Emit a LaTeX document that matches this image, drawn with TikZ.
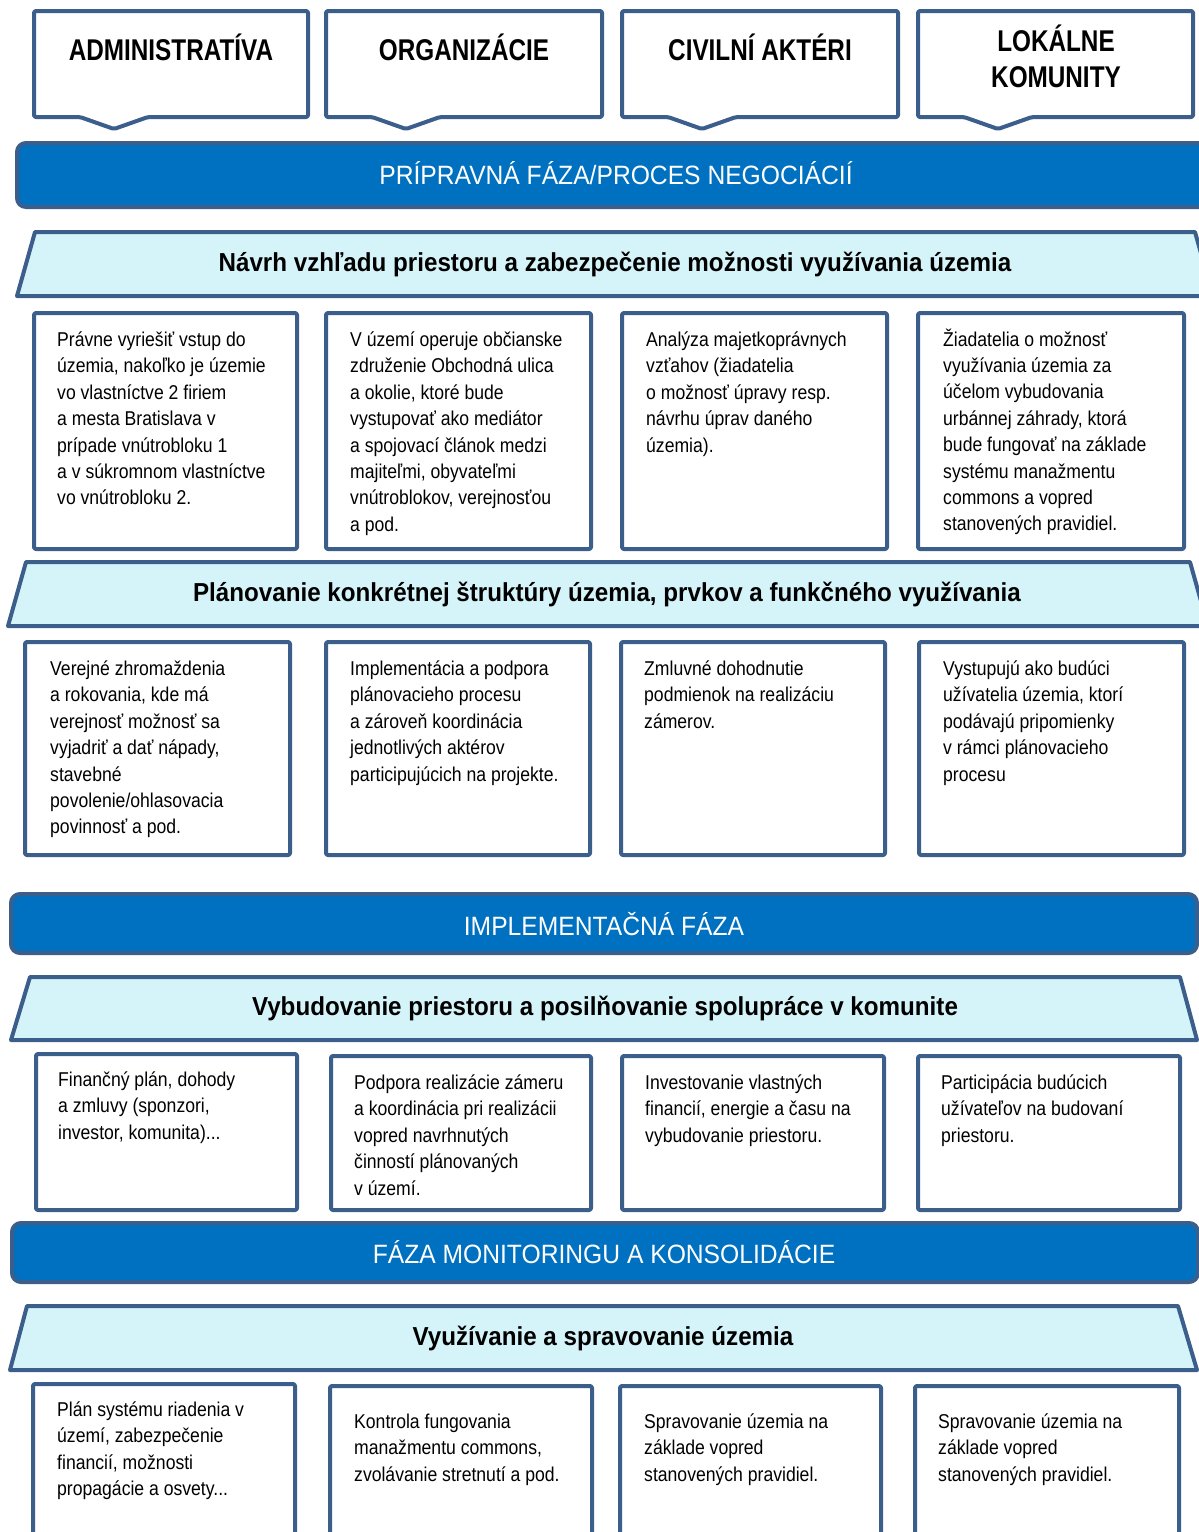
\documentclass[tikz,border=0pt]{standalone}
\usepackage{fontspec}
\usepackage{xcolor}
\usepackage{tikz}
\setmainfont{Liberation Sans}
\newfontfamily\headfont{Liberation Sans}[FakeStretch=0.81]
\newfontfamily\phasefont{Liberation Sans}[FakeStretch=0.93]
\newfontfamily\cellfont{Liberation Sans}[FakeStretch=0.88]
\definecolor{edgeblue}{HTML}{3C5E8B}
\definecolor{barblue}{HTML}{0070C0}
\definecolor{paleblue}{HTML}{D5F4FA}

\begin{document}
\begin{tikzpicture}[x=1pt, y=-1pt,
    edge/.style={draw=edgeblue, line width=4pt, line join=round},
    actor/.style={edge, fill=white, rounded corners=2pt},
    phasebar/.style={edge, fill=barblue, rounded corners=9pt},
    stagebar/.style={edge, fill=paleblue},
    cell/.style={edge, fill=white, rounded corners=2pt},
    actortext/.style={anchor=north, align=center, inner sep=0pt,
        font=\headfont\bfseries\fontsize{30}{36}\selectfont, execute at begin node=\strut},
    phasetext/.style={anchor=base, inner sep=0pt, text=white,
        font=\phasefont\fontsize{26.5}{30}\selectfont},
    stagetext/.style={anchor=base, inner sep=0pt,
        font=\phasefont\bfseries\fontsize{26}{30}\selectfont},
    celltext/.style={anchor=north west, align=left, inner sep=0pt,
        font=\cellfont\fontsize{20}{26.4}\selectfont, execute at begin node=\strut}]
    \useasboundingbox (0,0) rectangle (1199,1532);
    \clip (0,0) rectangle (1199,1532);

    % actors
    \foreach \l/\r in {34/308, 326/602, 622/898, 918/1193}
        \draw[actor] (\l,11) -- (\r,11) -- (\r,117) -- (\l+114,117) -- (\l+80,129) -- (\l+46,117) -- (\l,117) -- cycle;
    \node[actortext] (adm) at (171,33.8) {ADMINISTRATÍVA};
    \node[actortext] (org) at (464,33.8) {ORGANIZÁCIE};
    \node[actortext] (civ) at (760,33.8) {CIVILNÍ AKTÉRI};
    \node[actortext] (lok) at (1056,24.8) {LOKÁLNE\\KOMUNITY};

    % phase 1
    \draw[phasebar] (17,143) rectangle (1230,207);
    \node[phasetext] (prep) at (616,184) {PRÍPRAVNÁ FÁZA/PROCES NEGOCIÁCIÍ};
    \draw[stagebar] (35,232) -- (1195,232) -- (1213,296) -- (17,296) -- cycle;
    \node[stagetext] (navrh) at (615,271) {Návrh vzhľadu priestoru a zabezpečenie možnosti využívania územia};
    \draw[cell] (34,313) rectangle (297,549);
    \draw[cell] (326,313) rectangle (591,549);
    \draw[cell] (622,313) rectangle (887,549);
    \draw[cell] (918,313) rectangle (1184,549);
    \node[celltext] (n1) at (57,331.5) {Právne vyriešiť vstup do\\územia, nakoľko je územie\\vo vlastníctve 2 firiem\\a mesta Bratislava v\\prípade vnútrobloku 1\\a v súkromnom vlastníctve\\vo vnútrobloku 2.};
    \node[celltext] (n2) at (350,331.5) {V území operuje občianske\\združenie Obchodná ulica\\a okolie, ktoré bude\\vystupovať ako mediátor\\a spojovací článok medzi\\majiteľmi, obyvateľmi\\vnútroblokov, verejnosťou\\a pod.};
    \node[celltext] (n3) at (646,331.5) {Analýza majetkoprávnych\\vzťahov (žiadatelia\\o možnosť úpravy resp.\\návrhu úprav daného\\územia).};
    \node[celltext] (n4) at (943,328.5) {Žiadatelia o možnosť\\využívania územia za\\účelom vybudovania\\urbánnej záhrady, ktorá\\bude fungovať na základe\\systému manažmentu\\commons a vopred\\stanovených pravidiel.};

    \draw[stagebar] (26,562) -- (1190,562) -- (1208,626) -- (8,626) -- cycle;
    \node[stagetext] (plan) at (607,601) {Plánovanie konkrétnej štruktúry územia, prvkov a funkčného využívania};
    \draw[cell] (25,642) rectangle (290,855);
    \draw[cell] (326,642) rectangle (590,855);
    \draw[cell] (621,642) rectangle (885,855);
    \draw[cell] (919,642) rectangle (1184,855);
    \node[celltext] (p1) at (50,660.5) {Verejné zhromaždenia\\a rokovania, kde má\\verejnosť možnosť sa\\vyjadriť a dať nápady,\\stavebné\\povolenie/ohlasovacia\\povinnosť a pod.};
    \node[celltext] (p2) at (350,660.5) {Implementácia a podpora\\plánovacieho procesu\\a zároveň koordinácia\\jednotlivých aktérov\\participujúcich na projekte.};
    \node[celltext] (p3) at (644,660.5) {Zmluvné dohodnutie\\podmienok na realizáciu\\zámerov.};
    \node[celltext] (p4) at (943,660.5) {Vystupujú ako budúci\\užívatelia územia, ktorí\\podávajú pripomienky\\v rámci plánovacieho\\procesu};

    % phase 2
    \draw[phasebar] (11,894) rectangle (1197,953);
    \node[phasetext] (impl) at (604,935) {IMPLEMENTAČNÁ FÁZA};
    \draw[stagebar] (30,977) -- (1180,977) -- (1197,1040) -- (11,1040) -- cycle;
    \node[stagetext] (vyb) at (605,1015) {Vybudovanie priestoru a posilňovanie spolupráce v komunite};
    \draw[cell] (36,1054) rectangle (297,1210);
    \draw[cell] (331,1056) rectangle (591,1210);
    \draw[cell] (622,1056) rectangle (884,1210);
    \draw[cell] (918,1056) rectangle (1180,1210);
    \node[celltext] (v1) at (58,1071.5) {Finančný plán, dohody\\a zmluvy (sponzori,\\investor, komunita)...};
    \node[celltext] (v2) at (354,1074.5) {Podpora realizácie zámeru\\a koordinácia pri realizácii\\vopred navrhnutých\\činností plánovaných\\v území.};
    \node[celltext] (v3) at (645,1074.5) {Investovanie vlastných\\financií, energie a času na\\vybudovanie priestoru.};
    \node[celltext] (v4) at (941,1074.5) {Participácia budúcich\\užívateľov na budovaní\\priestoru.};

    % phase 3
    \draw[phasebar] (12,1223) rectangle (1198,1282);
    \node[phasetext] (mon) at (604,1263) {FÁZA MONITORINGU A KONSOLIDÁCIE};
    \draw[stagebar] (27,1306) -- (1178,1306) -- (1197,1370) -- (10,1370) -- cycle;
    \node[stagetext] (vyu) at (603,1345) {Využívanie a spravovanie územia};
    \draw[cell] (33,1384) rectangle (295,1560);
    \draw[cell] (330,1386) rectangle (592,1560);
    \draw[cell] (620,1386) rectangle (881,1560);
    \draw[cell] (915,1386) rectangle (1179,1560);
    \node[celltext] (s1) at (57,1401.5) {Plán systému riadenia v\\území, zabezpečenie\\financií, možnosti\\propagácie a osvety...};
    \node[celltext] (s2) at (354,1413.5) {Kontrola fungovania\\manažmentu commons,\\zvolávanie stretnutí a pod.};
    \node[celltext] (s3) at (644,1413.5) {Spravovanie územia na\\základe vopred\\stanovených pravidiel.};
    \node[celltext] (s4) at (938,1413.5) {Spravovanie územia na\\základe vopred\\stanovených pravidiel.};
\end{tikzpicture}
\end{document}
